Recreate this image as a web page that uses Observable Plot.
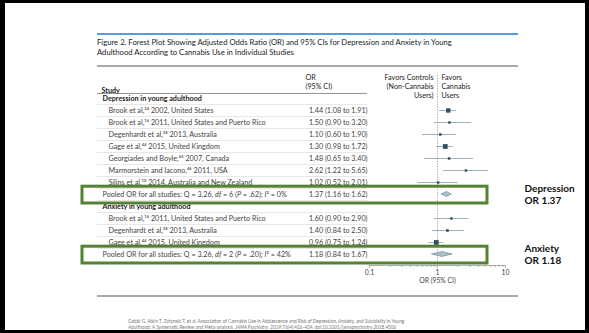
<!DOCTYPE html>
<html><head><meta charset="utf-8">
<script src="https://cdn.jsdelivr.net/npm/d3@7"></script>
<script src="https://cdn.jsdelivr.net/npm/@observablehq/plot@0.6"></script>
<style>
html,body{margin:0;padding:0;background:#000;}
#page{position:relative;width:589px;height:333px;background:#000;overflow:hidden;font-family:Lato,"Open Sans",sans-serif;}
#slide{position:absolute;left:5px;top:3px;width:580px;height:327px;background:#fff;}
.hline{position:absolute;left:97px;width:421px;height:2px;}
#title{position:absolute;left:97px;top:37px;font-size:7.7px;line-height:10px;color:#222;white-space:nowrap;}
#caption{position:absolute;left:128px;top:319px;font-size:4.7px;line-height:5.6px;color:#777;white-space:nowrap;}
#chart{position:absolute;left:0;top:0;}
</style></head>
<body><div id="page"><div id="slide"></div>
<div class="hline" style="top:33px;background:#5b9bd5"></div>
<div id="title">Figure 2. Forest Plot Showing Adjusted Odds Ratio (OR) and 95% CIs for Depression and Anxiety in Young<br>Adulthood According to Cannabis Use in Individual Studies</div>
<div class="hline" style="top:65px;background:#aaa"></div>
<div id="chart"></div>
<div class="hline" style="top:295px;background:#aaa"></div>
<div id="caption">Gobbi G, Atkin T, Zytynski T, et al. Association of Cannabis Use in Adolescence and Risk of Depression, Anxiety, and Suicidality in Young<br>Adulthood: A Systematic Review and Meta-analysis. <i>JAMA Psychiatry</i>. 2019;76(4):426-434. doi:10.1001/jamapsychiatry.2018.4500</div>
</div>
<script>
// ---- data ----
const rowLabels = [
  "Depression in young adulthood",
  "Brook et al,³⁴ 2002, United States",
  "Brook et al,¹⁶ 2011, United States and Puerto Rico",
  "Degenhardt et al,³⁸ 2013, Australia",
  "Gage et al,⁴⁴ 2015, United Kingdom",
  "Georgiades and Boyle,⁴⁵ 2007, Canada",
  "Marmorstein and Iacono,⁴⁶ 2011, USA",
  "Silins et al,¹⁰ 2014, Australia and New Zealand",
  "Pooled OR for all studies: Q = 3.26, df = 6 (P = .62); I² = 0%",
  "Anxiety in young adulthood",
  "Brook et al,¹⁶ 2011, United States and Puerto Rico",
  "Degenhardt et al,³⁸ 2013, Australia",
  "Gage et al,⁴⁴ 2015, United Kingdom",
  "Pooled OR for all studies: Q = 3.26, df = 2 (P = .20); I² = 42%"
];
const rowType = ["group","study","study","study","study","study","study","study","pooled","group","study","study","study","pooled"];
const orValue = [null, 1.44, 1.50, 1.10, 1.30, 1.48, 2.62, 1.02, 1.37, null, 1.60, 1.40, 0.96, 1.18];
const ciLow   = [null, 1.08, 0.90, 0.60, 0.98, 0.65, 1.22, 0.52, 1.16, null, 0.90, 0.84, 0.75, 0.84];
const ciHigh  = [null, 1.91, 3.20, 1.90, 1.72, 3.40, 5.65, 2.01, 1.62, null, 2.90, 2.50, 1.24, 1.67];
const studyWeight = [null, 25, 8, 8, 30, 8, 8, 8, null, null, 8, 9, 30, null];
const majorTicks = [0.1, 1, 10];
const minorTicks = [0.2,0.3,0.4,0.5,0.6,0.7,0.8,0.9,2,3,4,5,6,7,8,9];
const calloutLabels = ["Depression", "Anxiety"];
const headerStudy = "Study";
const headerOR = "OR\n(95% CI)";
const headerLeft = "Favors Controls\n(Non-Cannabis\nUsers)";
const headerRight = "Favors\nCannabis\nUsers";
const axisLabel = "OR (95% CI)";

// ---- build ----
const rows = rowLabels.map((label, i) => ({i, label, type: rowType[i], or: orValue[i], lo: ciLow[i], hi: ciHigh[i], w: studyWeight[i]}));
const studies = rows.filter(d => d.type === "study");
const pooled = rows.filter(d => d.type === "pooled");
const groups = rows.filter(d => d.type === "group");
const valued = rows.filter(d => d.or != null);
const fmt = v => v.toFixed(2);
const diamond = pooled.flatMap(d => [
  {i: d.i, x: d.lo, y1: d.i, y2: d.i},
  {i: d.i, x: d.or, y1: d.i - 0.21, y2: d.i + 0.21},
  {i: d.i, x: d.hi, y1: d.i, y2: d.i}
]);
const callouts = pooled.map((d, k) => ({i: d.i, text: `${calloutLabels[k]}\nOR ${fmt(d.or)}`}));
const axisY = rows.length - 1 + 0.92;
const fs = 7.2;

const chart = Plot.plot({
  width: 589, height: 300,
  marginLeft: 82, marginRight: 102, marginTop: 75, marginBottom: 35,
  style: {fontFamily: "Lato, 'Open Sans', sans-serif", background: "transparent", overflow: "visible", color: "#333"},
  x: {type: "log", domain: [0.1, 10], range: [369, 505], axis: null},
  y: {domain: [0, rows.length - 1], range: [98, 254], axis: null},
  r: {type: "sqrt", domain: [0, 30], range: [0, 2.7]},
  marks: [
    // row separators
    Plot.ruleY(rows.slice(0, -1), {y: d => d.i + 0.5, stroke: "#d6d6d6", strokeWidth: 0.6, insetLeft: 15, insetRight: 120}),
    Plot.ruleY([-0.42], {stroke: "#777", strokeWidth: 0.8, insetLeft: 15, insetRight: 120}),
    // reference line
    Plot.ruleX([1], {stroke: "#8a8a8a", strokeWidth: 0.7, strokeDasharray: "1.3,1.3"}),
    // axis
    Plot.ruleY([axisY], {x1: 0.1, x2: 10, stroke: "#888", strokeWidth: 0.7}),
    Plot.axisX(minorTicks, {anchor: "bottom", tickSize: 2, tickFormat: () => "", stroke: "#888", strokeWidth: 0.6}),
    Plot.axisX(majorTicks, {anchor: "bottom", tickSize: 3, tickPadding: 2, tickFormat: d => String(d), fontSize: 6.8, fill: "#444", stroke: "#888", strokeWidth: 0.6, label: null}),
    Plot.text([axisLabel], {x: 1, frameAnchor: "bottom", dy: 17, fontSize: 6.8, fill: "#444"}),
    // CIs and squares
    Plot.ruleY(studies, {y: "i", x1: "lo", x2: "hi", stroke: "#8d9ca6", strokeWidth: 0.8}),
    Plot.dot(studies, {x: "or", y: "i", r: "w", symbol: "square", fill: "#2e5060", stroke: null}),
    Plot.areaY(diamond, {x: "x", y1: "y1", y2: "y2", z: "i", fill: "#a9c0ce", stroke: "#5f8091", strokeWidth: 0.6}),
    // text columns
    Plot.text([headerStudy], {frameAnchor: "top-left", dx: 19, dy: 12, fontWeight: "bold", fontSize: fs, fill: "#222", textAnchor: "start"}),
    Plot.text([headerOR], {frameAnchor: "top-left", dx: 223, dy: -2, lineAnchor: "top", lineHeight: 1.25, fontSize: fs, fill: "#222", textAnchor: "start"}),
    Plot.text([headerLeft], {x: 1, frameAnchor: "top", dx: -4, dy: -2, lineAnchor: "top", lineHeight: 1.25, fontSize: fs, fill: "#222", textAnchor: "end"}),
    Plot.text([headerRight], {x: 1, frameAnchor: "top", dx: 4, dy: -2, lineAnchor: "top", lineHeight: 1.25, fontSize: fs, fill: "#222", textAnchor: "start"}),
    Plot.text(groups, {y: "i", text: "label", frameAnchor: "left", dx: 20, textAnchor: "start", fontWeight: "bold", fontSize: fs, fill: "#222"}),
    Plot.text(studies, {y: "i", text: "label", frameAnchor: "left", dx: 26, textAnchor: "start", fontSize: fs, fill: "#444"}),
    Plot.text(pooled, {y: "i", text: "label", frameAnchor: "left", dx: 20, textAnchor: "start", fontSize: fs, fill: "#444"}),
    Plot.text(valued, {y: "i", text: d => `${fmt(d.or)} (${fmt(d.lo)} to ${fmt(d.hi)})`, frameAnchor: "left", dx: 285, textAnchor: "end", fontSize: fs, fill: "#444"}),
    // highlight boxes and callouts
    Plot.rect(pooled, {y1: d => d.i - 0.65, y2: d => d.i + 0.75, fill: "none", stroke: "#548235", strokeWidth: 3}),
    Plot.text(callouts, {y: "i", text: "text", frameAnchor: "right", dx: 37, textAnchor: "start", lineHeight: 1.2, fontSize: 10, fontWeight: "bold", fill: "#111"})
  ]
});

// italic statistics symbols in pooled rows
chart.querySelectorAll("text").forEach(t => {
  const s = t.textContent;
  if (!s.startsWith("Pooled")) return;
  const parts = s.split(/(\bdf\b|\bP\b|\bI(?=²))/);
  t.textContent = "";
  parts.forEach(p => {
    if (!p) return;
    const ts = document.createElementNS("http://www.w3.org/2000/svg", "tspan");
    ts.textContent = p;
    if (/^(df|P|I)$/.test(p)) ts.setAttribute("font-style", "italic");
    t.appendChild(ts);
  });
});
document.getElementById("chart").appendChild(chart);
</script>
</body></html>
